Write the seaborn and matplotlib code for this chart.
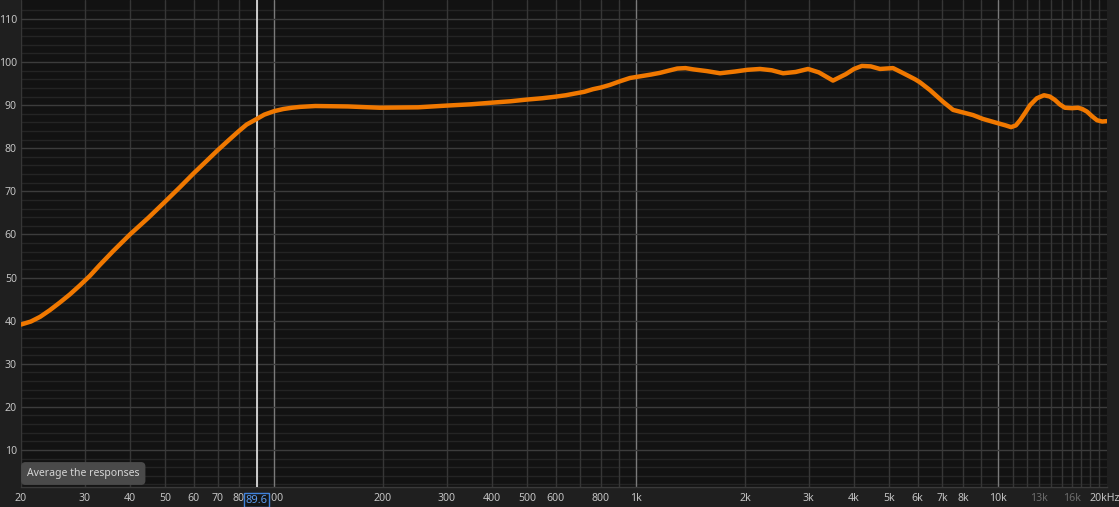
import matplotlib
matplotlib.use("Agg")
import matplotlib.pyplot as plt
from matplotlib.transforms import ScaledTranslation
from matplotlib.ticker import NullFormatter
import seaborn as sns
import pandas as pd

# ---- data ----
freq_hz = [20, 21.3, 22.6, 24, 25.6, 27.3, 29.1, 31, 33, 36, 40, 45, 50, 55, 60,
           65, 70, 75, 80, 84, 89.6, 94, 100, 106, 112, 118, 130, 160,
           196, 250, 300, 350, 403, 450, 500, 550, 597, 640, 678, 720, 760, 800,
           847, 900, 962, 1046, 1100, 1165, 1230, 1300, 1370, 1440, 1570,
           1706, 1876, 2030, 2200, 2370, 2548, 2760, 2986, 3200, 3500, 3800, 4000,
           4206, 4450, 4720, 5128, 5360, 5715, 5900,
           6086, 6486, 7046, 7514, 8007, 8530, 9087, 10000, 10500, 10865, 11200,
           11506, 11900, 12257, 12800, 13395, 13900, 14365, 14800, 15300, 16000,
           16630, 17100, 17610, 18200, 18770, 19400, 20000]
level_db = [39.1, 39.8, 40.9, 42.4, 44.2, 46.1, 48.2, 50.4, 52.9, 56.2, 60.0, 63.9,
            67.6, 71.0, 74.2, 77.0, 79.6, 81.9, 84.0, 85.5, 86.8, 87.8, 88.6, 89.1,
            89.4, 89.6, 89.8, 89.7, 89.4, 89.5, 89.9, 90.2, 90.6, 90.9, 91.3, 91.6,
            91.95, 92.3, 92.7, 93.1, 93.7, 94.1, 94.7, 95.5, 96.3, 96.8, 97.1, 97.5,
            98.0, 98.5, 98.6, 98.3, 97.9, 97.4, 97.8, 98.2, 98.4, 98.1, 97.4, 97.7,
            98.4, 97.6, 95.7, 97.2, 98.4, 99.1, 99.0, 98.4, 98.6, 97.8, 96.6, 96.0,
            95.3, 93.5, 90.8, 88.9, 88.3, 87.7, 86.8, 85.8, 85.3, 84.9, 85.3,
            86.5, 88.3, 90.0, 91.6, 92.3, 92.0, 91.2, 90.2, 89.4, 89.3,
            89.4, 89.1, 88.5, 87.4, 86.5, 86.2, 86.3]

x_tick_values = [20, 30, 40, 50, 60, 70, 80, 100, 200, 300, 400, 500, 600, 800,
                 1000, 2000, 3000, 4000, 5000, 6000, 7000, 8000, 10000, 13000,
                 16000, 20000]
x_tick_labels = ["20", "30", "40", "50", "60", "70", "80", "100", "200", "300",
                 "400", "500", "600", "800", "1k", "2k", "3k", "4k", "5k", "6k",
                 "7k", "8k", "10k", "13k", "16k", "20kHz"]
grid_freqs = ([20, 30, 40, 50, 60, 70, 80, 90] +
              [200, 300, 400, 500, 600, 700, 800, 900] +
              [2000, 3000, 4000, 5000, 6000, 7000, 8000, 9000] +
              [11000, 12000, 13000, 14000, 15000, 16000, 17000, 18000, 19000])
bright_grid_freqs = [100, 1000, 10000]
y_tick_values = [10, 20, 30, 40, 50, 60, 70, 80, 90, 100, 110]
y_minor_values = [v for v in range(2, 114, 2) if v % 10 != 0]
cursor_freq = 89.6
cursor_label = "89.6"
button_text = "Average the responses"

df = pd.DataFrame({"freq": freq_hz, "db": level_db})

sns.set_style("dark")
plt.rcParams["font.family"] = ["Noto Sans", "DejaVu Sans"]

W, H = 1119, 507
fig = plt.figure(figsize=(W / 100, H / 100), dpi=100, facecolor="#1f1f1f")
ax = fig.add_axes([21 / W, 20 / H, (1107 - 21) / W, 487 / H])
ax.set_facecolor("#121212")

ax.set_xscale("log")
ax.set_xlim(20, 20000)
ax.set_ylim(1.4, 114.4)

ax.set_xticks(x_tick_values)
ax.set_xticklabels(x_tick_labels)
ax.xaxis.set_minor_formatter(NullFormatter())
ax.set_xticks([], minor=True)
ax.set_yticks(y_tick_values)
ax.set_yticklabels([str(v) for v in y_tick_values])
ax.grid(False)
for f in grid_freqs:
    ax.axvline(f, color="#363636", lw=1.0, zorder=1)
for f in bright_grid_freqs:
    ax.axvline(f, color="#7a7a7a", lw=1.0, zorder=1)
for v in y_minor_values:
    ax.axhline(v, color="#242424", lw=1.0, zorder=0.9)
for v in y_tick_values:
    ax.axhline(v, color="#3c3c3c", lw=1.0, zorder=1)

ax.tick_params(axis="both", which="both", length=0, colors="#c4c4c4",
               labelsize=7.6)
ax.tick_params(axis="x", pad=4)
ax.tick_params(axis="y", pad=3)
for lbl in ax.get_xticklabels():
    if lbl.get_text() in ("13k", "16k"):
        lbl.set_color("#6c6c6c")
    if lbl.get_text() == "20kHz":
        lbl.set_ha("left")
        lbl.set_transform(lbl.get_transform() +
                          ScaledTranslation(-17 / 100, 0, fig.dpi_scale_trans))

for side in ("top", "right", "left"):
    ax.spines[side].set_visible(False)
ax.spines["bottom"].set_color("#3a3a3a")
ax.spines["bottom"].set_linewidth(1.0)

# curve
sns.lineplot(data=df, x="freq", y="db", ax=ax, color="#f07800", lw=3.2,
             zorder=5, solid_joinstyle="round", solid_capstyle="round")
ax.set_xlabel("")
ax.set_ylabel("")

# cursor
ax.axvline(cursor_freq, color="#e8e8e8", lw=1.2, zorder=4)
ax.text(cursor_freq, -0.016, cursor_label, transform=ax.get_xaxis_transform(),
        ha="center", va="top", color="#5b9cf0", fontsize=8.0, zorder=10,
        clip_on=False,
        bbox=dict(boxstyle="square,pad=0.15", facecolor="#151515",
                  edgecolor="#3f82dc", linewidth=1.0))

# button
fig.text(27 / W, 1 - 473.5 / H, button_text, ha="left", va="center",
         color="#d6d6d6", fontsize=7.5,
         bbox=dict(boxstyle="round,pad=0.5,rounding_size=0.35",
                   facecolor="#4a4a4a", edgecolor="#4a4a4a"))

fig.savefig("out.png", dpi=100, facecolor=fig.get_facecolor())
